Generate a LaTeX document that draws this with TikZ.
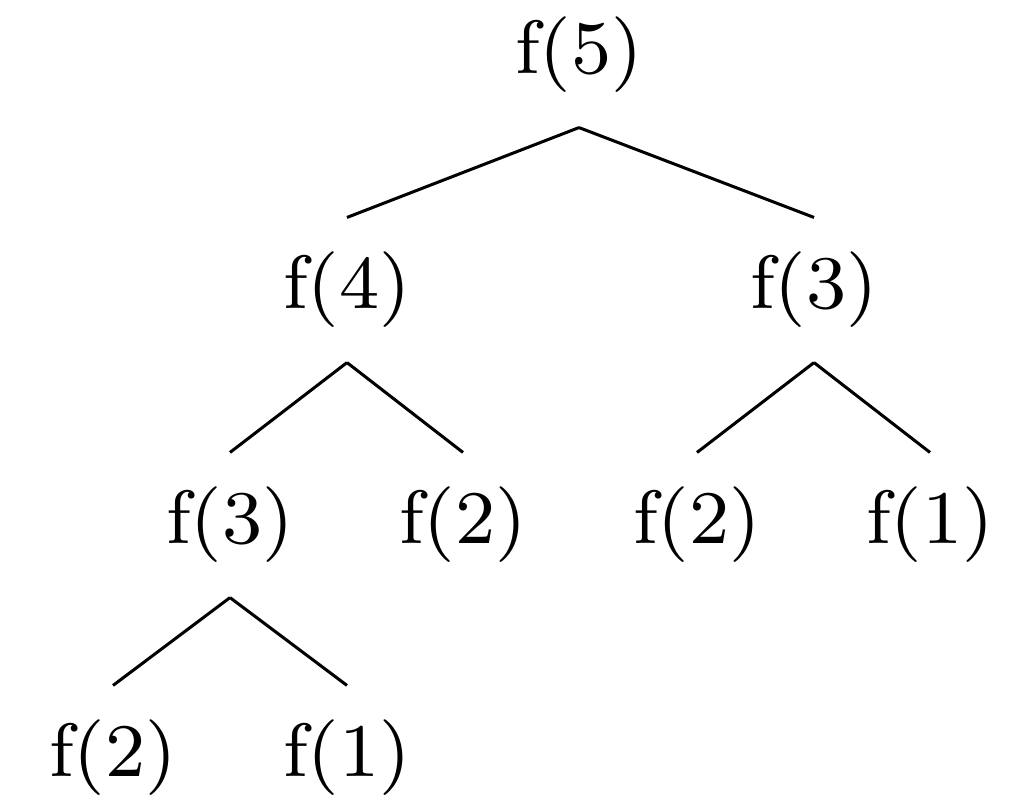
\documentclass[tikz,border=0pt]{standalone}
\begin{document}
\begin{tikzpicture}[x=0.01cm,y=-0.01cm,
  tn/.style={inner sep=0.34cm,font=\fontsize{8}{9.6}\selectfont},
  edge/.style={line width=0.86pt}]
\newcommand\bigt[1]{\scalebox{2.69}{#1}}
\useasboundingbox (0,0) rectangle (1015,811);
\node[tn] (n5) at (579,55) {\bigt{f(5)}};
\node[tn] (n4) at (347,290) {\bigt{f(4)}};
\node[tn] (n3r) at (814,290) {\bigt{f(3)}};
\node[tn] (n3l) at (230,525) {\bigt{f(3)}};
\node[tn] (n2a) at (463,525) {\bigt{f(2)}};
\node[tn] (n2b) at (697,525) {\bigt{f(2)}};
\node[tn] (n1a) at (930,525) {\bigt{f(1)}};
\node[tn] (n2c) at (113,758) {\bigt{f(2)}};
\node[tn] (n1b) at (347,758) {\bigt{f(1)}};
\draw[edge] (n5.south) -- (n4.north);
\draw[edge] (n5.south) -- (n3r.north);
\draw[edge] (n4.south) -- (n3l.north);
\draw[edge] (n4.south) -- (n2a.north);
\draw[edge] (n3r.south) -- (n2b.north);
\draw[edge] (n3r.south) -- (n1a.north);
\draw[edge] (n3l.south) -- (n2c.north);
\draw[edge] (n3l.south) -- (n1b.north);
\end{tikzpicture}
\end{document}
